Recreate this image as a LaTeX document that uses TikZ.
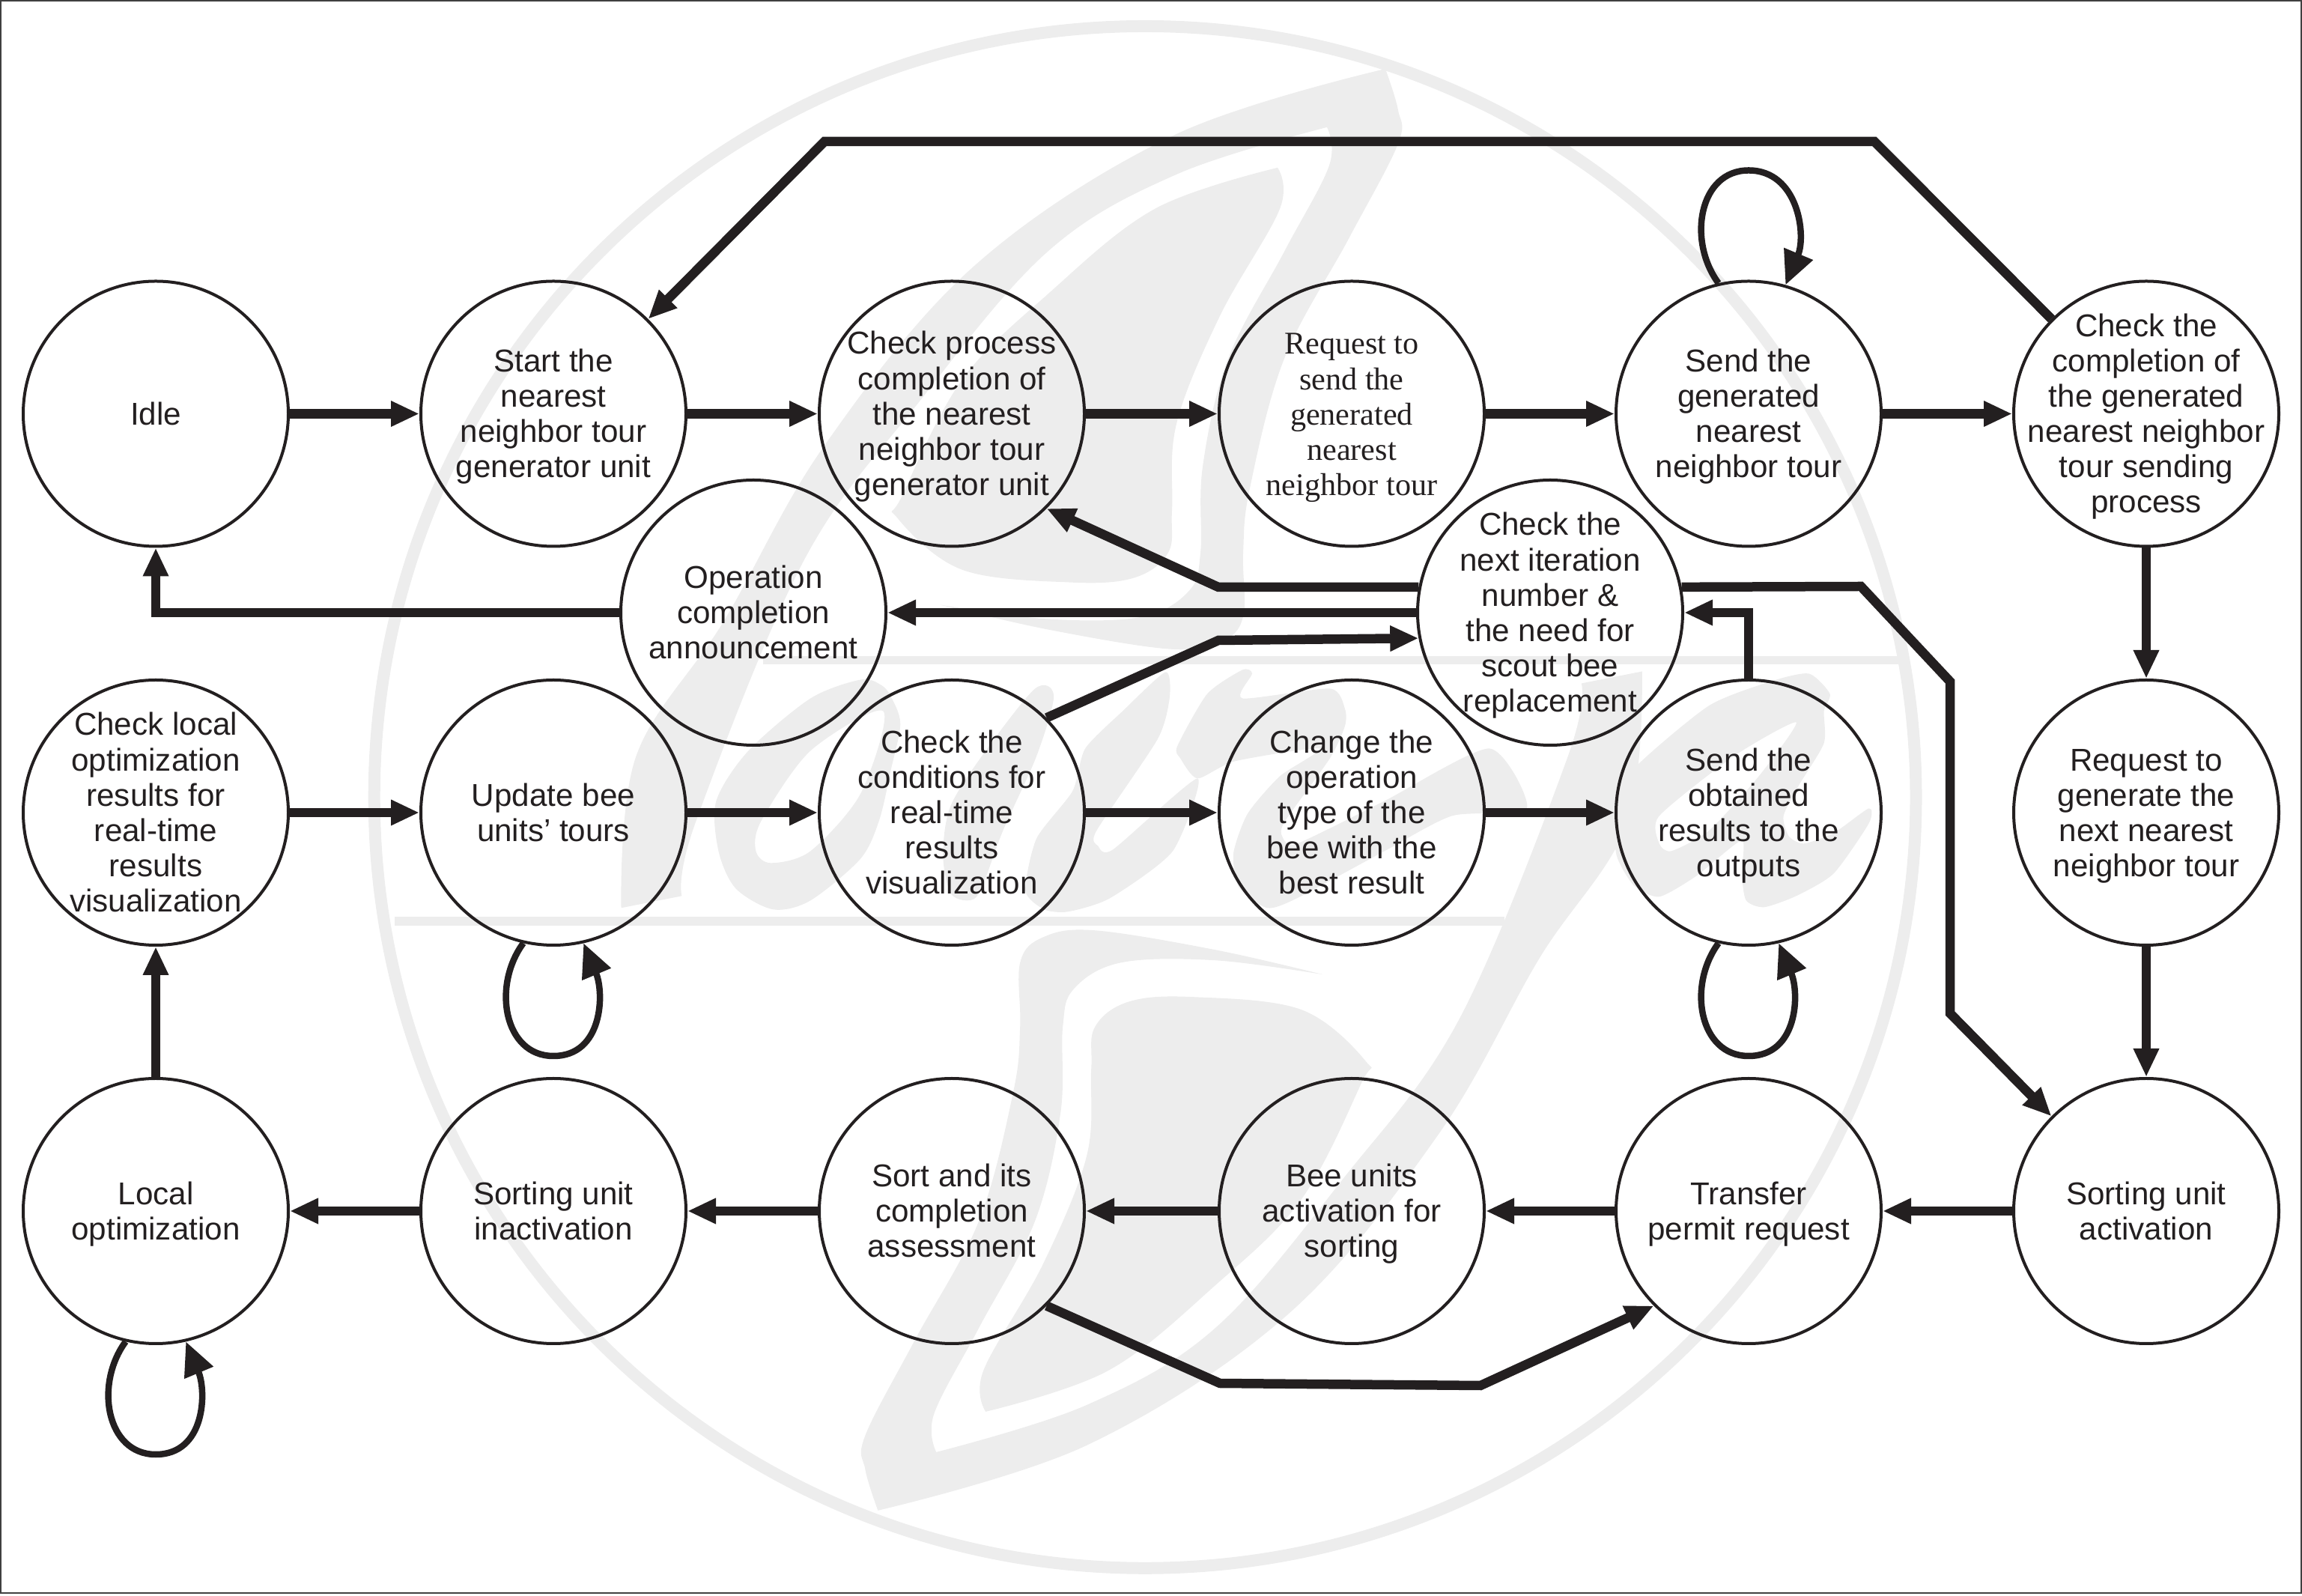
\documentclass[tikz,border=0pt]{standalone}
\usepackage{fontspec}
\usetikzlibrary{arrows.meta}
\setmainfont{Liberation Sans}
\newfontfamily\serifnode{Liberation Serif}
\definecolor{ink}{HTML}{231F20}
\definecolor{wmark}{HTML}{EDEDED}
\newcommand{\toprule}{\rule{0pt}{11.6pt}}
\newcommand{\botrule}{\rule[-3.24pt]{0pt}{3.24pt}}
\tikzset{
  unit/.style={circle,draw=ink,line width=.04cm,minimum size=3.54cm,inner sep=-1cm,text width=3.54cm,align=flush center,
    text=ink,font=\fontsize{12}{13.4}\selectfont,
    execute at begin node=\toprule,execute at end node=\botrule},
  flow/.style={draw=ink,line width=.125cm,-{Triangle[length=.38cm,width=.32cm]},line join=miter},
  selfloop/.style={draw=ink,line width=.085cm,-{Triangle[length=.45cm,width=.4cm]}},
  letter/.style={fill=wmark,even odd rule}
}
\begin{document}
\begin{tikzpicture}
    \useasboundingbox (0,0) rectangle (30.74,21.30);
    % watermark, coordinates in pixels of the page
    \begin{scope}[x=.01cm,y=-.01cm,yshift=21.3cm]
      \draw[wmark,line width=.16cm] (1530,1065) circle [radius=1030];
      \fill[wmark] (1020,877) rectangle (2540,888);
      \fill[wmark] (527,1225) rectangle (2010,1237);
      \foreach \ang in {0,180} {
        \begin{scope}[rotate around={\ang:(1512,1055)}]
          \fill[wmark] plot[smooth,tension=.6] coordinates {(1173,2018) (1156,1963) (1156,1918) (1222,1791) (1308,1631) (1354,1458) (1363,1372) (1363,1286) (1394,1252) (1463,1243) (1624,1269) (1768,1302)}
            -- plot[smooth,tension=.6] coordinates {(1768,1302) (1624,1283) (1498,1286) (1435,1321) (1420,1372) (1417,1487) (1383,1631) (1308,1774) (1248,1889) (1251,1940)}
            -- plot[smooth,tension=.6] coordinates {(1251,1940) (1452,1877) (1624,1774) (1796,1573) (1950,1361) (2094,1013) (2113,913)}
            -- plot[smooth,tension=.6] coordinates {(2194,897) (2174,1100) (2057,1280) (1923,1514) (1722,1755) (1454,1930) (1173,2018)} -- cycle;
          \fill[wmark] plot[smooth,tension=.6] coordinates {(1317,1886) (1314,1831) (1394,1688) (1452,1544) (1458,1430) (1463,1372) (1509,1338) (1595,1332) (1739,1349) (1825,1418) (1819,1447) (1739,1602) (1624,1717) (1481,1831) (1317,1886)} -- cycle;
        \end{scope}
      }
      % script word
      \path[letter] plot[smooth cycle,tension=.5] coordinates {(1150,908) (1177,915) (1190,930) (1203,967) (1190,1030) (1175,1095) (1150,1147) (1083,1203) (1033,1215) (983,1187) (960,1137) (957,1070) (1000,1003) (1083,933)}
        plot[smooth cycle,tension=.5] coordinates {(1180,950) (1083,1003) (1017,1097) (1010,1137) (1030,1153) (1083,1137) (1150,1060)};
      \path[letter] plot[smooth cycle,tension=.5] coordinates {(1383,920) (1408,930) (1385,1010) (1340,1110) (1310,1190) (1293,1203) (1270,1193) (1260,1143) (1270,1077) (1317,1003)};
      \path[letter] plot[smooth cycle,tension=.4] coordinates {(1557,898) (1563,930) (1547,987) (1465,1110) (1467,1130) (1487,1135) (1600,1040) (1567,1137) (1483,1200) (1427,1218) (1395,1215) (1370,1190) (1385,1120) (1433,1057) (1450,1000) (1500,950)};
      \path[letter] plot[smooth cycle,tension=.4] coordinates {(1660,895) (1673,900) (1660,933) (1777,920) (1797,947) (1797,970) (1777,1013) (1717,1097) (1713,1117) (1733,1127) (1850,1070) (1990,1000) (2040,1080) (1940,1090) (1850,1137) (1733,1200) (1693,1213) (1655,1185) (1648,1140) (1667,1087) (1710,1037) (1763,1000) (1650,1017) (1600,1040) (1577,1013) (1573,997) (1613,927)};
      \path[letter] plot[smooth cycle,tension=.4] coordinates {(2417,900) (2445,927) (2437,950) (2437,993) (2403,1050) (2383,1090) (2390,1117) (2410,1127) (2450,1113) (2497,1080) (2497,1100) (2450,1167) (2400,1197) (2357,1212) (2333,1203) (2327,1167) (2327,1123) (2267,1170) (2217,1198) (2183,1183) (2160,1143) (2157,1083) (2183,1027) (2283,943) (2367,910)}
        plot[smooth cycle,tension=.4] coordinates {(2400,965) (2317,1010) (2217,1090) (2217,1127) (2233,1137) (2283,1110) (2350,1037)};
    \end{scope}
    % states
    \node[unit] (idle) at (2.08,15.775) {Idle};
    \node[unit] (startgen) at (7.39,15.775) {Start the\\nearest\\neighbor tour\\generator unit};
    \node[unit] (checkgen) at (12.71,15.775) {Check process\\completion of\\the nearest\\neighbor tour\\generator unit};
    \node[unit,font=\serifnode\fontsize{12}{13.4}\selectfont] (reqsend) at (18.05,15.775) {Request to\\send the\\generated\\nearest\\neighbor tour};
    \node[unit] (sendgen) at (23.35,15.775) {Send the\\generated\\nearest\\neighbor tour};
    \node[unit] (checksend) at (28.66,15.775) {Check the\\completion of\\the generated\\nearest neighbor\\tour sending\\process};
    \node[unit] (opdone) at (10.06,13.12) {Operation\\completion\\announcement};
    \node[unit] (checknext) at (20.70,13.12) {Check the\\next iteration\\number \&\\the need for\\scout bee\\replacement};
    \node[unit] (checkvis) at (2.08,10.45) {Check local\\optimization\\results for\\real-time\\results\\visualization};
    \node[unit] (updatebee) at (7.39,10.45) {Update bee\\units’ tours};
    \node[unit] (checkcond) at (12.71,10.45) {Check the\\conditions for\\real-time\\results\\visualization};
    \node[unit] (changeop) at (18.05,10.45) {Change the\\operation\\type of the\\bee with the\\best result};
    \node[unit] (sendout) at (23.35,10.45) {Send the\\obtained\\results to the\\outputs};
    \node[unit] (reqnext) at (28.66,10.45) {Request to\\generate the\\next nearest\\neighbor tour};
    \node[unit] (localopt) at (2.08,5.13) {Local\\optimization};
    \node[unit] (sortin) at (7.39,5.13) {Sorting unit\\inactivation};
    \node[unit] (sortassess) at (12.71,5.13) {Sort and its\\completion\\assessment};
    \node[unit] (beeact) at (18.05,5.13) {Bee units\\activation for\\sorting};
    \node[unit] (transfer) at (23.35,5.13) {Transfer\\permit request};
    \node[unit] (sortact) at (28.66,5.13) {Sorting unit\\activation};
    % bends of the long connectors
    \coordinate (topr) at (25.03,19.41);
    \coordinate (topl) at (11.01,19.41);
    \coordinate (backup) at (16.27,13.46);
    \coordinate (forward) at (16.27,12.75);
    \coordinate (downa) at (24.85,13.47);
    \coordinate (downb) at (26.04,12.20);
    \coordinate (downc) at (26.04,7.77);
    \coordinate (lowl) at (16.29,2.83);
    \coordinate (lowr) at (19.77,2.80);
    % straight connectors
    \draw[flow] (idle) -- (startgen);
    \draw[flow] (startgen) -- (checkgen);
    \draw[flow] (checkgen) -- (reqsend);
    \draw[flow] (reqsend) -- (sendgen);
    \draw[flow] (sendgen) -- (checksend);
    \draw[flow] (checksend) -- (reqnext);
    \draw[flow] (reqnext) -- (sortact);
    \draw[flow] (sortact) -- (transfer);
    \draw[flow] (transfer) -- (beeact);
    \draw[flow] (beeact) -- (sortassess);
    \draw[flow] (sortassess) -- (sortin);
    \draw[flow] (sortin) -- (localopt);
    \draw[flow] (localopt) -- (checkvis);
    \draw[flow] (checkvis) -- (updatebee);
    \draw[flow] (updatebee) -- (checkcond);
    \draw[flow] (checkcond) -- (changeop);
    \draw[flow] (changeop) -- (sendout);
    \draw[flow] (checknext) -- (opdone);
    % bent connectors
    \draw[flow] (opdone) -| (idle);
    \draw[flow] (sendout) |- (checknext);
    \draw[flow] (checksend.135) -- (topr) -- (topl) -- (startgen.45);
    \draw[flow] (checknext.169) -- (backup) -- (checkgen.-45);
    \draw[flow] (checkcond.45) -- (forward) -- (checknext.191);
    \draw[flow] (checknext.11) -- (downa) -- (downb) -- (downc) -- (sortact.135);
    \draw[flow] (sortassess.-45) -- (lowl) -- (lowr) -- (transfer.225);
    % self loops
    \path (sendgen) ++(0,3.25) coordinate (looptop);
    \draw[selfloop] (sendgen.103) .. controls +(-.42,.57) and +(-.66,0) .. (looptop) .. controls +(.66,0) and +(.28,.67) .. (sendgen.74);
    \foreach \st in {updatebee,sendout,localopt} {
      \path (\st) ++(0,-3.25) coordinate (loopend);
      \draw[selfloop] (\st.257) .. controls +(-.42,-.57) and +(-.66,0) .. (loopend) .. controls +(.66,0) and +(.28,-.67) .. (\st.283);
    }
    \draw[draw=black!75,line width=.025cm] (.012,.03) rectangle (30.728,21.29);
\end{tikzpicture}
\end{document}
